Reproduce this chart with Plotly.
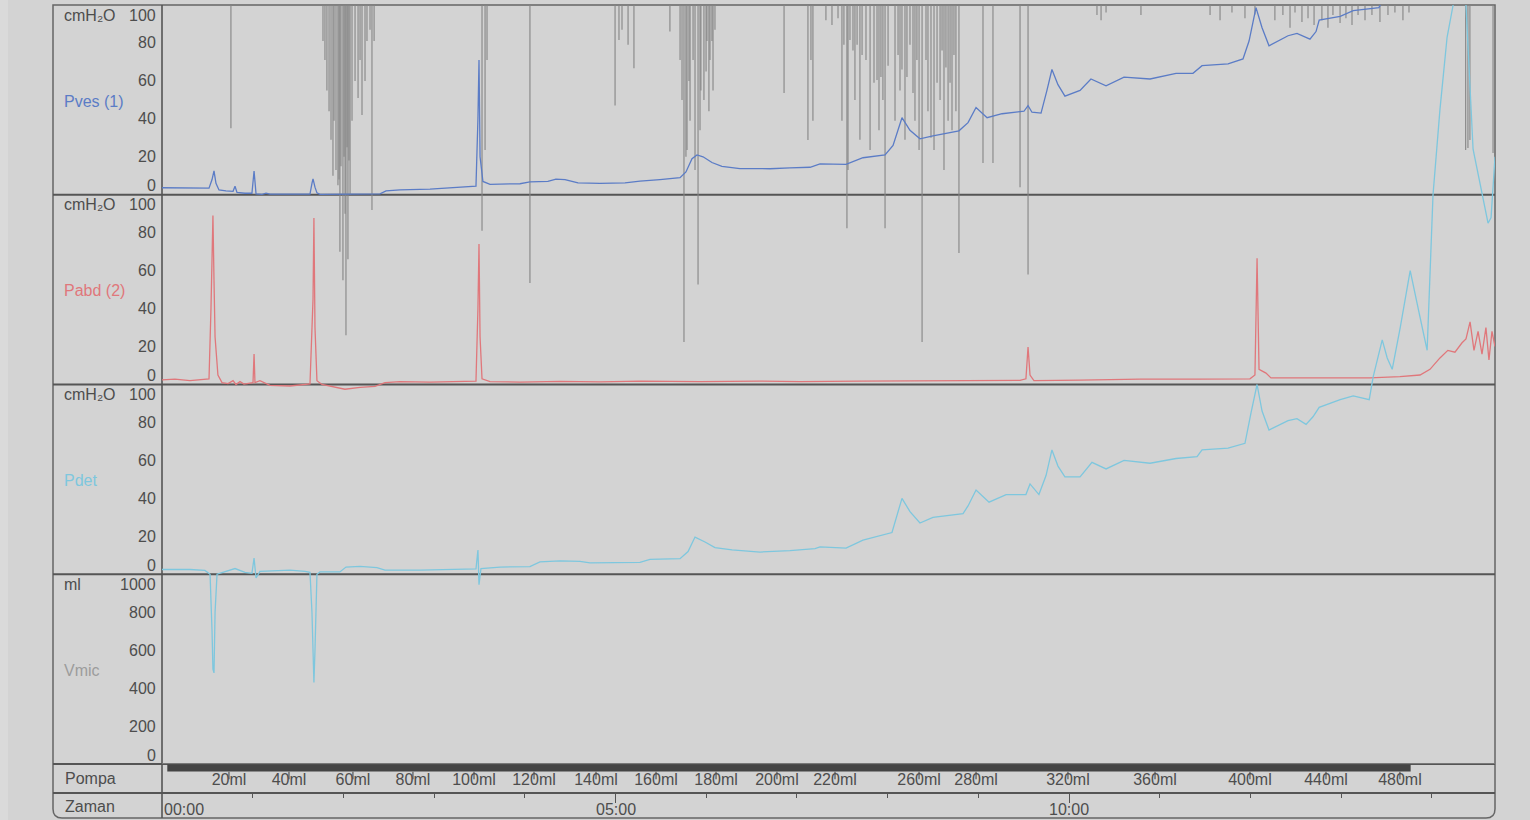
import plotly.graph_objects as go

# ---------------- channel data (time in seconds) ----------------
# Pves, cmH2O
pves_t = [0, 28.4, 31.1, 33.1, 34.4, 35.7, 37.7, 42.3, 47.0, 48.3, 49.6, 54.9, 59.5, 60.9, 62.2,
          66.2, 68.8, 71.4, 97.9, 99.2, 99.9, 101.2, 102.5, 104.5, 144.2, 148.2, 157.4, 177.3,
          190.5, 203.7, 207.7, 209.0, 209.7, 210.4, 212.3, 217.0, 236.8, 243.4, 255.3, 260.6,
          266.6, 275.2, 289.7, 306.3, 316.2, 329.4, 342.7, 346.6, 350.6, 353.9, 357.9, 363.8,
          370.4, 382.3, 402.2, 415.4, 428.7, 435.3, 452.5, 463.7, 478.3, 483.6, 489.5, 494.8,
          501.4, 510.0, 527.2, 533.2, 538.5, 545.8, 555.7, 570.2, 572.9, 575.5, 581.5, 585.4,
          588.7, 592.7, 597.3, 607.3, 614.5, 624.5, 636.4, 653.6, 670.8, 682.0, 688.0, 705.2,
          715.1, 719.1, 723.7, 727.7, 732.3, 744.9, 750.8, 759.4, 763.4, 765.5, 779.4, 788.0,
          805.0, 812.3, 818.9, 838.8, 881.8]
pves_v = [3.7, 3.7, 3.5, 8, 12.6, 6, 2.5, 2.0, 1.8, 4.5, 1.2, 0.8, 0.8, 12.5, 0.5,
          0.2, 0.8, 0.3, 0.3, 6, 8.4, 4, 1, 0.2, 0.5, 2.0, 2.6, 3.0,
          3.5, 4.0, 4.5, 40, 71, 20, 7, 5.5, 5.8, 6.8, 7.0, 8.2,
          8.0, 6.3, 6.0, 6.3, 7.2, 8.0, 9.0, 12, 19, 21, 20, 17,
          15, 13.8, 13.7, 14.2, 14.5, 16.3, 16.0, 19.5, 21, 26, 40.6, 34,
          29.5, 31, 33.7, 38, 46, 40.6, 42.7, 44, 47, 43.5, 43, 55,
          66, 58, 52, 55, 61, 57.4, 62, 61, 64, 64, 68, 69,
          71.6, 81, 98.6, 88, 78.5, 83.8, 85, 82, 86, 92, 94, 97,
          98.6, 110, 140, 250, 350]

# Pabd, cmH2O
pabd_t = [0, 8.6, 18.5, 28.4, 31.1, 32.4, 33.1, 33.7, 34.4, 35.1, 37.0, 39.7, 43.7, 47.0, 48.9,
          51.6, 54.2, 58.2, 60.2, 60.9, 61.5, 64.8, 67.5, 71.4, 84.7, 91.3, 97.9, 99.9, 100.5,
          101.2, 102.5, 105.8, 111.1, 121.0, 131.0, 140.9, 147.5, 157.4, 177.3, 197.1, 207.7,
          209.0, 209.7, 210.4, 211.7, 217.0, 236.8, 263.3, 289.7, 316.2, 355.9, 395.6, 422.0,
          461.7, 501.4, 541.1, 567.6, 571.5, 572.9, 574.2, 576.8, 607.3, 647.0, 686.6, 719.7,
          723.0, 724.4, 725.7, 730.3, 733.6, 766.0, 799.1, 818.9, 832.2, 838.8, 845.4, 850.6,
          855.3, 860.0, 862.6, 865.3, 867.9, 870.6, 873.2, 875.8, 877.8, 879.8, 881.8]
pabd_v = [2.4, 2.8, 2.0, 2.5, 3, 40, 60, 89, 55, 25, 5, 1, 0.5, 2.0, 0,
          1.5, 0.2, 0.5, 1, 16, 1, 2, 1.0, -0.5, -0.8, -0.2, 0.3, 45, 87.7,
          30, 2, 0, -1, -2.5, -1.5, -1.0, 1.0, 1.5, 1.2, 1.8, 1.8,
          40, 74, 25, 3, 1.5, 1.3, 1.6, 1.4, 1.8, 1.5, 1.8, 1.5,
          1.8, 2.0, 1.8, 2.2, 3, 19.8, 5, 2, 2.3, 2.8, 2.8, 3.0,
          5, 66.5, 8, 6, 3.5, 3.5, 3.5, 4.2, 5, 8, 14, 18,
          17, 22, 24, 33, 18, 28, 16, 30, 13, 28, 20]

# Pdet, cmH2O
pdet_t = [0, 18.5, 28.4, 31.8, 33.1, 33.7, 34.4, 35.1, 36.4, 41.7, 48.3, 54.9, 59.5, 60.9, 62.2,
          64.8, 74.8, 84.7, 94.6, 97.9, 99.2, 100.5, 101.2, 102.5, 104.5, 117.7, 121.7, 131.0,
          142.2, 147.5, 170.7, 190.5, 207.7, 209.0, 209.7, 211.0, 223.6, 243.4, 250.0, 263.3,
          276.5, 283.1, 303.0, 316.2, 322.8, 342.7, 348.0, 352.6, 359.2, 365.8, 377.1, 395.6,
          415.4, 432.0, 435.3, 452.5, 463.7, 482.9, 489.5, 494.8, 501.4, 510.0, 529.9, 533.2,
          538.5, 547.1, 558.4, 571.5, 574.2, 580.1, 584.8, 588.7, 592.7, 597.3, 607.3, 615.2,
          624.5, 636.4, 653.6, 670.8, 684.7, 688.0, 705.2, 716.4, 720.4, 724.4, 727.7, 732.3,
          744.9, 750.8, 756.8, 761.4, 765.5, 779.4, 788.0, 793.9, 798.6, 801.2, 807.2, 810.5,
          813.8, 819.1, 825.7, 831.0, 836.9, 840.8, 845.4, 850.1, 854.1, 858.0, 862.6, 867.3,
          871.9, 874.6, 877.2, 879.2, 881.8]
pdet_v = [2.5, 2.5, 2, 0, -30, -50, -52, -20, 0, 1.5, 3.0, 1, 0.5, 8.5, -2,
          1.5, 1.7, 2.2, 1.5, 1, -20, -57, -40, 0, 1.2, 1.2, 3.8, 4.2,
          3.5, 2.2, 2.2, 2.5, 2.8, 12.8, -5.5, 3, 3.8, 4.0, 6.5, 7.0,
          6.8, 6, 6.0, 6.3, 7.8, 8.2, 12, 19.6, 17, 14, 12.8, 11.7,
          12.5, 13.5, 14.4, 13.8, 18, 22, 40, 33, 27, 30, 32, 36,
          44.4, 38, 42, 42, 47.6, 42, 52, 65.5, 57, 51.3, 51.3, 59,
          55.5, 60, 58.5, 61, 62, 65.5, 66.5, 69, 85, 100, 86, 76,
          81, 82, 79, 83, 88, 92, 94, 93, 92, 104, 123.5, 114,
          108, 130, 160, 140, 118, 200, 245, 283, 300, 330, 300, 224,
          205, 195, 185, 188, 220]

# Vmic, ml
vmic_t = [0, 881.8]
vmic_v = [0, 0]

# Artefact dropouts on the pressure line (time, lowest reading on the Pves scale)
art_t = [45.6, 106.5, 107.8, 109.1, 110.5, 111.8, 113.1, 113.8, 115.1, 116.4, 117.1, 117.7, 118.4,
         119.7, 120.4, 121.1, 121.7, 122.4, 123.0, 123.7, 124.4, 125.7, 127.7, 129.7, 131.0,
         132.3, 134.3, 135.6, 137.6, 138.9, 140.3,
         211.7, 213.7, 215.0, 243.4, 299.7, 302.3, 304.3, 308.3, 312.2, 336.0,
         342.7, 344.0, 345.3, 346.6, 347.3, 348.6, 349.3, 351.3, 352.6, 354.6, 355.9, 356.5,
         358.5, 359.9, 360.5, 361.8, 362.5, 363.8, 364.5, 365.8,
         411.5, 427.3, 429.3, 430.6, 439.2, 443.2, 447.2,
         449.8, 451.1, 453.1, 453.8, 455.1, 457.1, 458.4, 459.8, 461.7, 463.1, 465.7, 468.4,
         471.0, 473.0, 474.3, 475.6, 476.9, 478.3, 480.3, 484.9, 486.9, 488.2, 489.5, 491.5,
         492.8, 494.8, 496.8, 498.1, 499.4, 500.8, 502.8, 505.4, 506.7, 508.7, 510.7, 512.7,
         514.7, 516.0, 517.3, 518.6, 520.0, 521.3, 522.6, 523.9, 525.2, 527.2,
         543.1, 549.7, 567.6, 572.9, 618.5, 621.2, 624.5, 647.6, 693.3, 699.9, 707.8, 716.4,
         723.0, 736.2, 741.5, 746.2, 749.5, 754.1, 758.1, 762.1, 767.3, 771.3, 774.6, 779.3,
         783.2, 787.2, 791.2, 795.8, 800.4, 805.7, 811.0, 815.6, 820.9, 824.9,
         862.4, 863.9, 865.2, 880.5]
art_v = [35, 81, 71, 55, 44, 29, 10, 39, 13, 5, 8, -30, 15,
         -45, 20, -10, -74, 25, -34, 18, 0, 39, 60, 51, 71,
         42, 60, 81, 87, -8, 81,
         -19, 23.6, 71, -46.5, 47, 81.5, 87, 79, 66.7, 86,
         71, 50, -77.6, 20, 23.6, 60, 39, 71, 13, -47.3, 34, 55,
         50, 65, 81, 44, 71, 81, 55, 87,
         53.6, 28.8, 71, 39, 92, 89.5, 93,
         39, 79, -17.6, 13, 81.5, 76, 50, 79, 29, 73.6, 71, 23.6,
         59, 60.5, 34, 62, 50, -17.6, 68, 39, 73.6, 55, 66, 29,
         62, 79, 53.6, 39, 71, 23.6, -77.6, 71, 44, 30, 23.6, 59,
         50, 76, 13, 67, 39, 59, 34, 73.6, 44, -30.7,
         16.7, 16.7, 4, -42, 94.7, 92, 96, 94.7, 94.7, 92, 96, 93,
         95, 92, 94.7, 88, 96, 91, 93, 89.5, 92, 88, 94.7, 90.5,
         93, 89.5, 94.7, 92, 94.7, 91, 94.7, 96, 92, 96,
         23.6, 24.6, 28.8, 22]

# Pump (infused volume markers)
pump_on = [3.5, 826.0]
pump_label = ["20ml", "40ml", "60ml", "80ml", "100ml", "120ml", "140ml", "160ml", "180ml",
              "200ml", "220ml", "260ml", "280ml", "320ml", "360ml", "400ml", "440ml", "480ml"]
pump_t = [44.3, 84.0, 126.3, 166.0, 206.4, 246.1, 287.1, 326.8, 366.5,
          406.8, 445.2, 500.8, 538.5, 599.3, 656.9, 719.7, 770.0, 818.9]

# Time axis
time_label = ["00:00", "05:00", "10:00"]
time_label_t = [0, 300, 600]
T_END = 881.8

# Channel rows: name, unit, tick values, colour
channel_names = ["Pves (1)", "Pabd (2)", "Pdet", "Vmic"]
channel_units = ["cmH\u2082O", "cmH\u2082O", "cmH\u2082O", "ml"]
channel_ticks = [[0, 20, 40, 60, 80, 100]] * 3 + [[0, 200, 400, 600, 800, 1000]]
channel_colors = ["#5b7cc6", "#e0777b", "#7ec7de", "#9c9c9c"]

# ---------------- layout geometry (pixels) ----------------
W, H = 1530, 820
X_LEFT, X_DIV, X_RIGHT = 53, 162, 1495
Y_TOP = 5
PANEL_H = 189.75
Y_STACK_BOT = Y_TOP + 4 * PANEL_H      # 764
Y_POMPA_BOT = 793
Y_BOT = 818


def fx(x):
    return x / W


def fy(y):
    return 1 - y / H


FONT = "Liberation Sans, Arial, sans-serif"
TXT = "#4d4d4d"
LINE = "#555555"

fig = go.Figure()

stack_dom = [fy(Y_STACK_BOT), fy(Y_TOP)]
# Each channel axis spans the whole stack; its range places 0..max inside its own row,
# so large excursions run on into the neighbouring rows.
ranges = []
for k, ticks in enumerate(channel_ticks):
    vmax = ticks[-1]
    ranges.append([-(3 - k) * vmax, (k + 1) * vmax])

yaxes = ["y", "y2", "y3", "y4"]

# artefact spikes (grey)
ax_x, ax_y = [], []
for t, v in zip(art_t, art_v):
    ax_x += [t, t, None]
    ax_y += [104, v, None]
fig.add_trace(go.Scatter(x=ax_x, y=ax_y, mode="lines", yaxis="y",
                         line=dict(color="#858585", width=1.1), hoverinfo="skip"))

fig.add_trace(go.Scatter(x=vmic_t, y=vmic_v, mode="lines", yaxis="y4",
                         line=dict(color=channel_colors[3], width=1.2)))
fig.add_trace(go.Scatter(x=pdet_t, y=pdet_v, mode="lines", yaxis="y3",
                         line=dict(color=channel_colors[2], width=1.3)))
fig.add_trace(go.Scatter(x=pabd_t, y=pabd_v, mode="lines", yaxis="y2",
                         line=dict(color=channel_colors[1], width=1.3)))
fig.add_trace(go.Scatter(x=pves_t, y=pves_v, mode="lines", yaxis="y",
                         line=dict(color=channel_colors[0], width=1.3)))

# pump bar, volume ticks and labels
fig.add_trace(go.Scatter(x=pump_on, y=[0.86, 0.86], mode="lines", xaxis="x2", yaxis="y5",
                         line=dict(color="#444444", width=7)))
pt_x, pt_y = [], []
for t in pump_t:
    pt_x += [t, t, None]
    pt_y += [0.73, 0.47, None]
fig.add_trace(go.Scatter(x=pt_x, y=pt_y, mode="lines", xaxis="x2", yaxis="y5",
                         line=dict(color=LINE, width=1.2)))
fig.add_trace(go.Scatter(x=pump_t, y=[0.42] * len(pump_t), mode="text", text=pump_label,
                         textposition="middle center", xaxis="x2", yaxis="y5",
                         textfont=dict(family=FONT, size=16, color=TXT)))

hidden = dict(visible=False, showgrid=False, zeroline=False, fixedrange=True)
layout = dict(
    width=W, height=H,
    margin=dict(l=0, r=0, t=0, b=0),
    paper_bgcolor="#d3d3d3", plot_bgcolor="rgba(0,0,0,0)",
    showlegend=False,
    xaxis=dict(domain=[fx(X_DIV), fx(X_RIGHT)], range=[0, T_END], anchor="y", **hidden),
    xaxis2=dict(domain=[fx(X_DIV), fx(X_RIGHT)], range=[0, T_END], anchor="y5", **hidden),
    xaxis3=dict(domain=[fx(X_DIV), fx(X_RIGHT)], range=[0, T_END], anchor="y6",
                side="top", showgrid=False, zeroline=False, showline=False,
                showticklabels=False, ticks="inside", tickmode="array",
                tickvals=[300, 600], ticklen=10, tickwidth=1.2, tickcolor=LINE,
                minor=dict(ticks="inside", dtick=60, tick0=0, ticklen=5,
                           tickwidth=1.2, tickcolor=LINE)),
    yaxis5=dict(domain=[fy(Y_POMPA_BOT), fy(Y_STACK_BOT)], range=[0, 1], anchor="x2", **hidden),
    yaxis6=dict(domain=[fy(Y_BOT), fy(Y_POMPA_BOT)], range=[0, 1], anchor="x3", **hidden),
)
for k, ya in enumerate(yaxes):
    key = "yaxis" if k == 0 else f"yaxis{k + 1}"
    d = dict(domain=stack_dom, range=ranges[k], anchor="x", **hidden)
    if k > 0:
        d["overlaying"] = "y"
    layout[key] = d
fig.update_layout(**layout)

# ---------------- frame ----------------
shapes = []
# faint strip at the far left edge
shapes.append(dict(type="rect", xref="paper", yref="paper", x0=0, x1=fx(8), y0=0, y1=1,
                   fillcolor="#dadada", line=dict(width=0), layer="below"))
r = 9
path = (f"M {fx(X_LEFT)},{fy(Y_TOP)} L {fx(X_RIGHT)},{fy(Y_TOP)} "
        f"L {fx(X_RIGHT)},{fy(Y_BOT - r)} Q {fx(X_RIGHT)},{fy(Y_BOT)} {fx(X_RIGHT - r)},{fy(Y_BOT)} "
        f"L {fx(X_LEFT + r)},{fy(Y_BOT)} Q {fx(X_LEFT)},{fy(Y_BOT)} {fx(X_LEFT)},{fy(Y_BOT - r)} Z")
shapes.append(dict(type="path", path=path, xref="paper", yref="paper",
                   line=dict(color="#666666", width=1.5), layer="below"))
shapes.append(dict(type="line", xref="paper", yref="paper", x0=fx(X_DIV), x1=fx(X_DIV),
                   y0=fy(Y_TOP), y1=fy(Y_BOT), line=dict(color=LINE, width=1.6), layer="below"))
for y in [Y_TOP + PANEL_H * i for i in (1, 2, 3, 4)] + [Y_POMPA_BOT]:
    shapes.append(dict(type="line", xref="paper", yref="paper", x0=fx(X_LEFT), x1=fx(X_RIGHT),
                       y0=fy(y), y1=fy(y), line=dict(color=LINE, width=1.8), layer="below"))
fig.update_layout(shapes=shapes)

# ---------------- text ----------------
ann = []
for k in range(4):
    top = Y_TOP + PANEL_H * k
    ann.append(dict(x=fx(62), y=fy(top + 10), xref="paper", yref="paper", text=channel_units[k],
                    xanchor="left", yanchor="middle", showarrow=False,
                    font=dict(family=FONT, size=16, color=TXT)))
    ann.append(dict(x=fx(62), y=fy(top + 96), xref="paper", yref="paper", text=channel_names[k],
                    xanchor="left", yanchor="middle", showarrow=False,
                    font=dict(family=FONT, size=16, color=channel_colors[k])))
    ticks = channel_ticks[k]
    for v in ticks:
        shift = 9 if v == ticks[0] else (-10 if v == ticks[-1] else 0)
        ann.append(dict(x=fx(158), y=v, xref="paper", yref=yaxes[k], text=str(v),
                        xanchor="right", yanchor="middle", yshift=shift, showarrow=False,
                        font=dict(family=FONT, size=16, color=TXT)))
ann.append(dict(x=fx(63), y=fy(778), xref="paper", yref="paper", text="Pompa",
                xanchor="left", yanchor="middle", showarrow=False,
                font=dict(family=FONT, size=16, color=TXT)))
ann.append(dict(x=fx(63), y=fy(806), xref="paper", yref="paper", text="Zaman",
                xanchor="left", yanchor="middle", showarrow=False,
                font=dict(family=FONT, size=16, color=TXT)))
# clock labels under the time ticks
for lbl, t in zip(time_label, time_label_t):
    ann.append(dict(x=t, y=0.33, xref="x3", yref="y6", text=lbl,
                    xanchor="left" if t == 0 else "center", yanchor="middle",
                    showarrow=False, font=dict(family=FONT, size=16, color=TXT)))
fig.update_layout(annotations=ann)

fig.write_html("out.html")
